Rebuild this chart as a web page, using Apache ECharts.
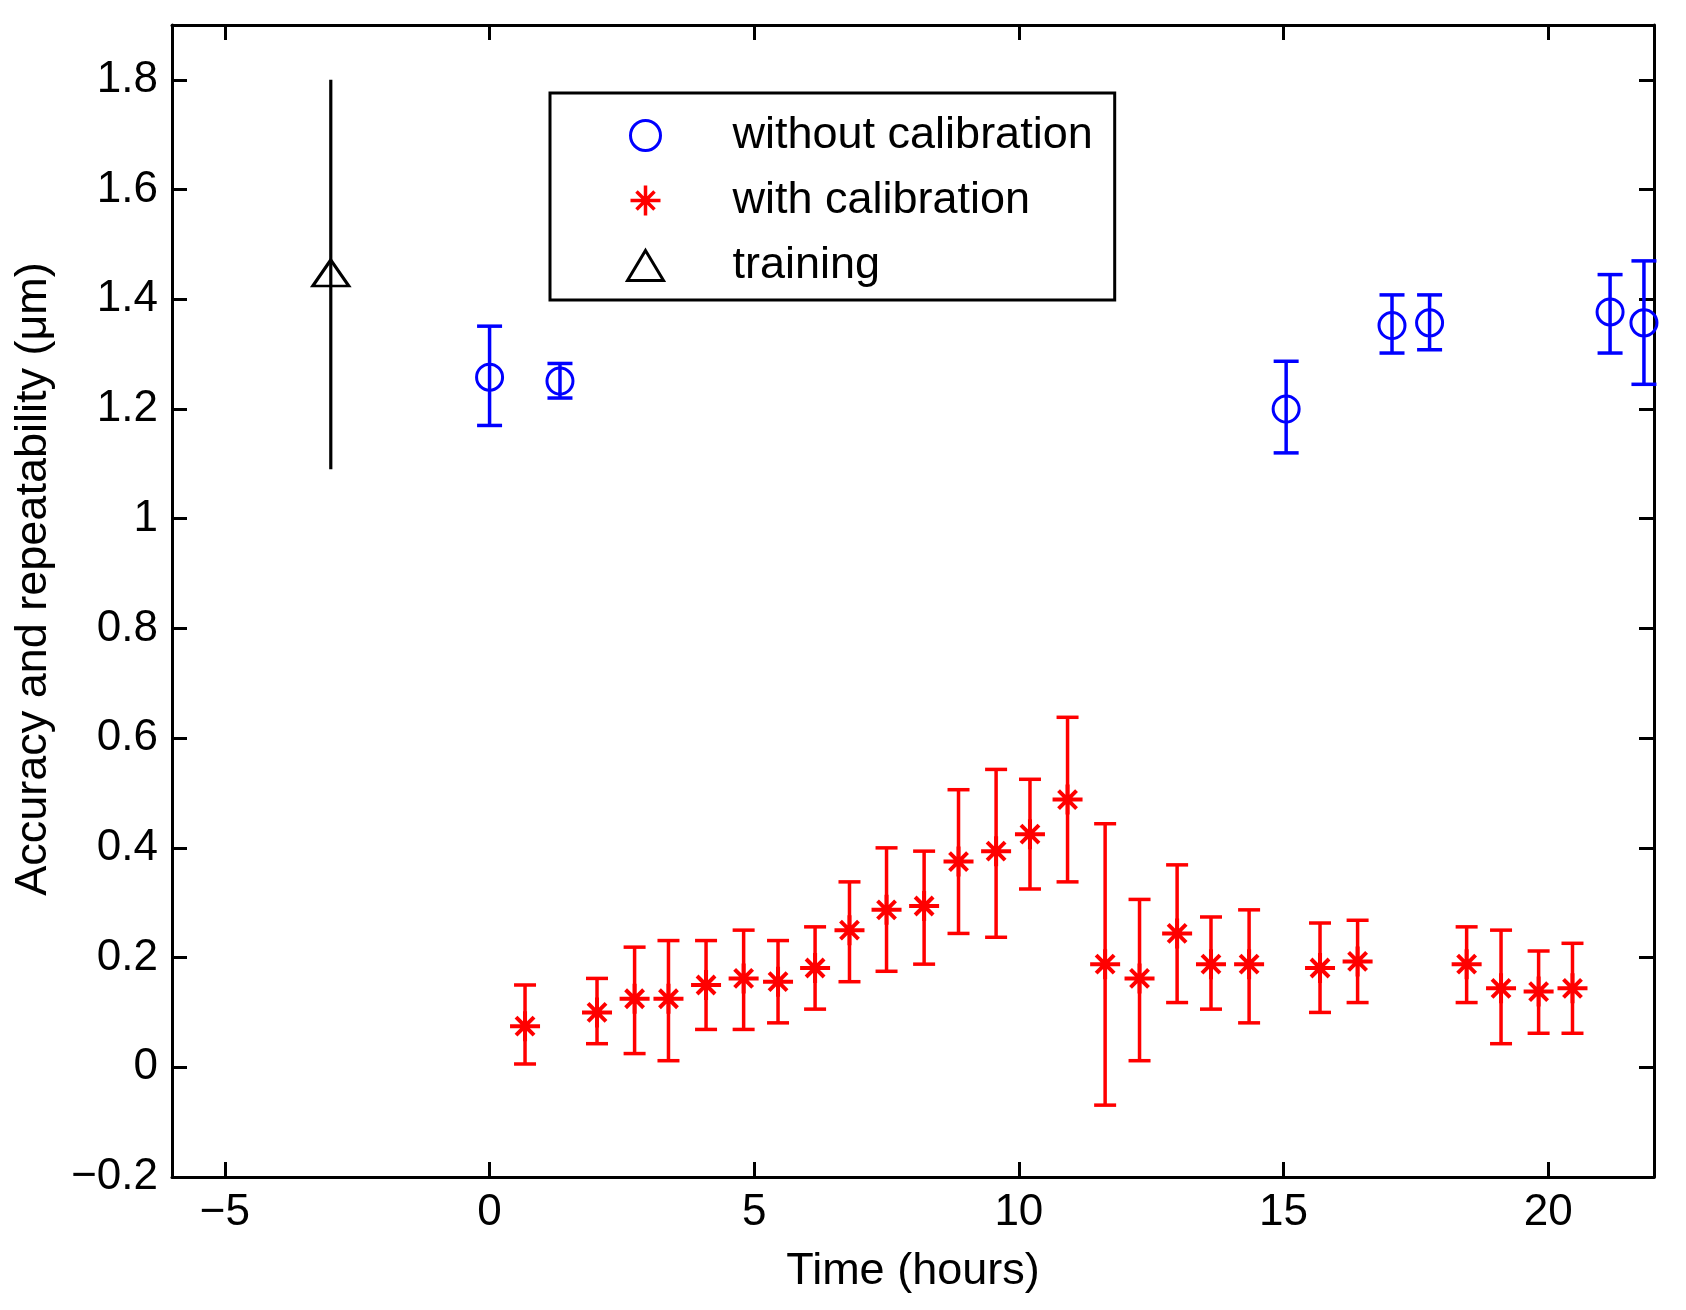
<!DOCTYPE html>
<html lang="en">
<head>
  <meta charset="UTF-8">
  <title>Accuracy and repeatability vs time</title>
  <script src="https://cdn.jsdelivr.net/npm/echarts@6.0.0/dist/echarts.min.js"></script>
  <style>
    body { margin: 0; background: #fff; }
    #chart { width: 1686px; height: 1310px; }
  </style>
</head>
<body>
<div id="chart"></div>
<script>
// training point (one point, no caps)
var trainHours = [-3];
var trainValue = [1.448];
var trainLow = [1.09];
var trainHigh = [1.80];

// without calibration (blue circles)
var rawHours = [0, 1.33, 15.05, 17.05, 17.76, 21.17, 21.81];
var rawValue = [1.258, 1.251, 1.200, 1.352, 1.357, 1.377, 1.357];
var rawLow   = [1.170, 1.220, 1.120, 1.302, 1.308, 1.302, 1.245];
var rawHigh  = [1.351, 1.283, 1.287, 1.408, 1.408, 1.445, 1.470];

// with calibration (red stars)
var calHours = [0.67, 2.03, 2.74, 3.38, 4.09, 4.80, 5.45, 6.15, 6.80, 7.50, 8.21, 8.86, 9.57,
                10.21, 10.92, 11.63, 12.28, 12.99, 13.63, 14.35, 15.69, 16.40, 18.46, 19.11, 19.82, 20.46];
var calValue = [0.075, 0.100, 0.125, 0.125, 0.150, 0.162, 0.156, 0.181, 0.250, 0.287, 0.294, 0.375, 0.394,
                0.425, 0.488, 0.188, 0.162, 0.244, 0.188, 0.188, 0.181, 0.193, 0.188, 0.144, 0.138, 0.144];
var calLow   = [0.006, 0.043, 0.025, 0.012, 0.069, 0.069, 0.081, 0.106, 0.156, 0.175, 0.188, 0.244, 0.237,
                0.325, 0.338, -0.069, 0.012, 0.118, 0.106, 0.081, 0.100, 0.118, 0.118, 0.043, 0.062, 0.062];
var calHigh  = [0.150, 0.162, 0.219, 0.231, 0.231, 0.250, 0.231, 0.256, 0.338, 0.400, 0.394, 0.506, 0.543,
                0.525, 0.638, 0.444, 0.306, 0.369, 0.274, 0.287, 0.263, 0.268, 0.256, 0.250, 0.212, 0.226];

var FONT = '"Liberation Sans", Arial, Helvetica, sans-serif';
var STAR = 'path://M0,10L20,10M10,0L10,20M4,4L16,16M4,16L16,4';

function points(xs, ys) {
  return xs.map(function (x, i) { return [x, ys[i]]; });
}
function bars(xs, lo, hi) {
  return xs.map(function (x, i) { return [x, lo[i], hi[i]]; });
}
function minusSign(v) {
  return String(v).replace('-', '\u2212');
}

// error bar drawn through the axis scales
function errorBar(color, capWidth, lineWidth) {
  return function (params, api) {
    var x = api.value(0);
    var top = api.coord([x, api.value(2)]);
    var bot = api.coord([x, api.value(1)]);
    var style = { stroke: color, lineWidth: lineWidth };
    var kids = [{ type: 'line', shape: { x1: top[0], y1: top[1], x2: bot[0], y2: bot[1] }, style: style }];
    if (capWidth > 0) {
      var h = capWidth / 2;
      kids.push({ type: 'line', shape: { x1: top[0] - h, y1: top[1], x2: top[0] + h, y2: top[1] }, style: style });
      kids.push({ type: 'line', shape: { x1: bot[0] - h, y1: bot[1], x2: bot[0] + h, y2: bot[1] }, style: style });
    }
    return { type: 'group', children: kids };
  };
}

var axisLine = { show: true, onZero: false, lineStyle: { color: '#000', width: 3 } };
var axisTick = { show: true, inside: true, length: 15, lineStyle: { color: '#000', width: 3 } };

var chart = echarts.init(document.getElementById('chart'));
var option = {
  animation: false,
  backgroundColor: '#fff',
  textStyle: { fontFamily: FONT },
  grid: { left: 172, right: 32, top: 25, bottom: 133 },
  xAxis: [{
    type: 'value', position: 'bottom', min: -6, max: 22, splitNumber: 5,
    axisLine: axisLine, axisTick: axisTick, splitLine: { show: false },
    axisLabel: { fontSize: 44, color: '#000', fontFamily: FONT, margin: 14,
                 showMinLabel: false, showMaxLabel: false, formatter: minusSign },
    name: 'Time (hours)', nameLocation: 'middle', nameGap: 72,
    nameTextStyle: { fontSize: 45, color: '#000', fontFamily: FONT }
  }, {
    type: 'value', position: 'top', min: -6, max: 22, splitNumber: 5,
    axisLine: axisLine, axisTick: axisTick, splitLine: { show: false },
    axisLabel: { show: false }
  }],
  yAxis: [{
    type: 'value', position: 'left', min: -0.2, max: 1.9, interval: 0.2,
    axisLine: axisLine, axisTick: axisTick, splitLine: { show: false },
    axisLabel: { fontSize: 44, color: '#000', fontFamily: FONT, margin: 14,
                 showMaxLabel: false, formatter: minusSign },
    name: 'Accuracy and repeatability (\u03bcm)', nameLocation: 'middle', nameGap: 116,
    nameTextStyle: { fontSize: 45, color: '#000', fontFamily: FONT, padding: [0, 0, 0, 44] }
  }, {
    type: 'value', position: 'right', min: -0.2, max: 1.9, interval: 0.2,
    axisLine: axisLine, axisTick: axisTick, splitLine: { show: false },
    axisLabel: { show: false }
  }],
  legend: {
    orient: 'vertical', left: 550, top: 93,
    padding: [20, 22, 12, 76],
    itemWidth: 36, itemHeight: 30, itemGap: 20,
    borderColor: '#000', borderWidth: 3, backgroundColor: '#fff',
    selectedMode: false,
    textStyle: { fontSize: 45, color: '#000', fontFamily: FONT, padding: [0, 0, 0, 64] },
    data: [
      { name: 'without calibration', icon: 'circle',
        itemStyle: { color: 'transparent', borderColor: '#0000ff', borderWidth: 3 } },
      { name: 'with calibration', icon: STAR,
        itemStyle: { color: 'transparent', borderColor: '#ff0000', borderWidth: 3.5 } },
      { name: 'training', icon: 'triangle',
        itemStyle: { color: 'transparent', borderColor: '#000', borderWidth: 3 } }
    ]
  },
  series: [
    { type: 'custom', name: 'training bars', renderItem: errorBar('#000', 0, 3.2),
      data: bars(trainHours, trainLow, trainHigh), encode: { x: 0, y: [1, 2] }, z: 2 },
    { type: 'custom', name: 'raw bars', renderItem: errorBar('#0000ff', 25, 3.5),
      data: bars(rawHours, rawLow, rawHigh), encode: { x: 0, y: [1, 2] }, z: 2 },
    { type: 'custom', name: 'cal bars', renderItem: errorBar('#ff0000', 22, 3.5),
      data: bars(calHours, calLow, calHigh), encode: { x: 0, y: [1, 2] }, z: 2 },
    { type: 'scatter', name: 'without calibration', symbol: 'circle', symbolSize: 26,
      itemStyle: { color: 'transparent', borderColor: '#0000ff', borderWidth: 3, opacity: 1 },
      data: points(rawHours, rawValue), z: 3 },
    { type: 'scatter', name: 'with calibration', symbol: STAR, symbolSize: 30,
      itemStyle: { color: 'transparent', borderColor: '#ff0000', borderWidth: 4, opacity: 1 },
      data: points(calHours, calValue), z: 3 },
    { type: 'scatter', name: 'training', symbol: 'triangle', symbolSize: [36, 26],
      itemStyle: { color: 'transparent', borderColor: '#000', borderWidth: 3, opacity: 1 },
      data: points(trainHours, trainValue), z: 3 }
  ]
};
chart.setOption(option);
</script>
</body>
</html>
